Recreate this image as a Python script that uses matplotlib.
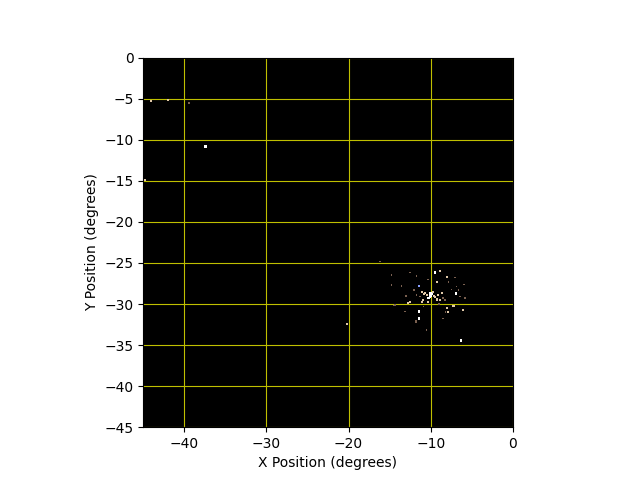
import matplotlib
matplotlib.use("Agg")
import matplotlib.pyplot as plt

# star positions (degrees), brightness class: 0 faint, 1 medium, 2 bright
star_x = [-44.0, -42.0, -39.4, -37.4, -44.8, -16.2, -20.19,
          -9.49, -8.88, -14.75, -11.71, -12.53, -7.05, -8.06, -10.30, -11.40,
          -14.75, -13.54, -9.28, -5.96, -6.85, -7.46,
          -10.09, -11.11, -10.70, -10.50, -9.89, -9.69, -9.49, -9.08, -8.67,
          -8.48, -9.28, -10.30, -10.91, -11.31, -11.71, -11.11, -10.09, -8.88, -8.27,
          -6.93, -6.45, -5.84, -12.53, -14.35, -13.14, -11.40, -11.40, -11.76, -11.76,
          -8.06, -7.87, -8.48, -7.26, -6.04, -10.50, -6.32,
          -12.73, -11.03, -7.18, -8.19, -14.44, -9.95, -10.25, -9.60, -10.80, -9.20,
          -12.0, -13.0, -7.8, -6.6, -10.9, -9.0]
star_y = [-5.33, -5.2, -5.5, -10.8, -14.9, -24.8, -32.44,
          -26.18, -25.94, -26.46, -26.59, -26.18, -26.79, -26.67, -26.99, -27.77,
          -27.68, -27.80, -27.28, -27.60, -27.89, -28.21,
          -28.70, -28.50, -28.62, -28.90, -28.70, -28.50, -29.11, -28.90, -28.70,
          -29.30, -29.51, -29.72, -29.51, -29.11, -28.90, -29.72, -29.11, -29.51, -29.51,
          -28.70, -29.11, -29.30, -29.72, -30.12, -30.94, -30.94, -31.74, -32.0, -32.2,
          -30.53, -30.94, -31.74, -30.24, -30.73, -33.17, -34.48,
          -29.84, -29.72, -30.20, -31.0, -30.20, -28.95, -29.25, -29.00, -28.80, -29.40,
          -28.3, -29.0, -27.3, -28.3, -30.3, -30.0]
star_class = [1, 1, 0, 2, 1, 0, 1,
              2, 1, 0, 0, 0, 0, 1, 0, 1,
              0, 0, 1, 0, 0, 0,
              2, 1, 1, 1, 2, 1, 1, 1, 1,
              0, 1, 1, 1, 0, 0, 1, 2, 1, 0,
              2, 0, 0, 1, 0, 0, 2, 2, 0, 0,
              1, 1, 0, 1, 1, 0, 2,
              1, 1, 1, 0, 0, 2, 2, 1, 1, 1,
              0, 0, 0, 0, 0, 0]
star_blue = [15]

sizes = {0: 1.2, 1: 2.2, 2: 3.6}
colors = {0: "#7a6050", 1: "#e0c8a8", 2: "#ffffff"}

fig = plt.figure(figsize=(6.4, 4.8), dpi=100)
ax = fig.add_subplot(111)
ax.set_facecolor("black")
s = [sizes[c] for c in star_class]
col = [colors[c] for c in star_class]
for i in star_blue:
    col[i] = "#8aa0ff"
ax.scatter(star_x, star_y, s=s, c=col, marker="s", linewidths=0, zorder=3)
ax.set_xlim(-45, 0)
ax.set_ylim(-45, 0)
ax.set_aspect("equal")
ax.grid(True, color="y", linewidth=0.8)
ax.set_axisbelow(True)
ax.set_xlabel("X Position (degrees)")
ax.set_ylabel("Y Position (degrees)")
fig.savefig("out.png", dpi=100)
